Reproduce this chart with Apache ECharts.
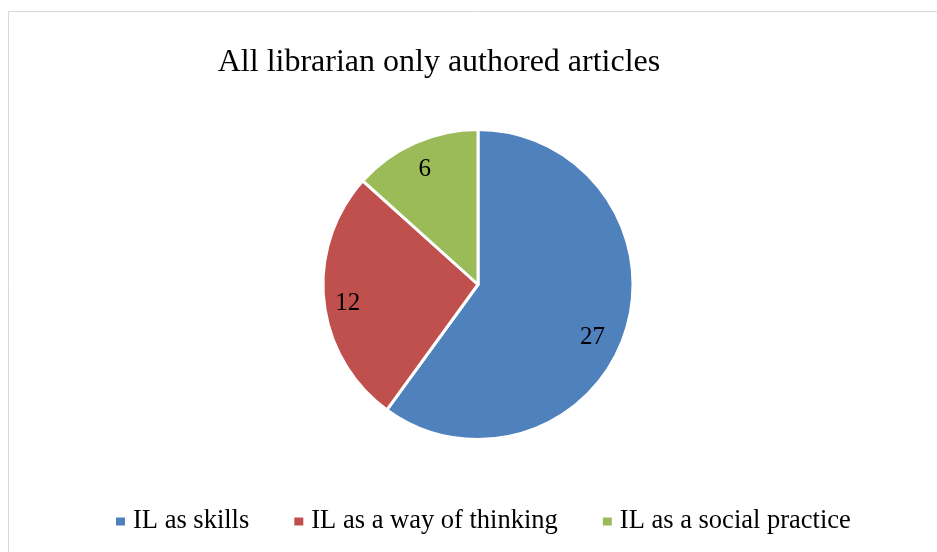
<!DOCTYPE html>
<html>
<head>
<meta charset="utf-8">
<script src="https://cdn.jsdelivr.net/npm/echarts@6/dist/echarts.min.js"></script>
<style>
  html, body { margin: 0; padding: 0; background: #fff; }
  #chart { width: 937px; height: 552px; }
</style>
</head>
<body>
<div id="chart"></div>
<script>
// Categories and article counts
const categories = ['IL as skills', 'IL as a way of thinking', 'IL as a social practice'];
const counts = [27, 12, 6];
const colors = ['#4F81BD', '#C0504D', '#9BBB59'];
const titleText = 'All librarian only authored articles';

const serif = '"Liberation Serif", "Times New Roman", serif';
const center = [478, 284.5];
const radius = 155;

const pieData = categories.map((name, i) => ({
  name: name,
  value: counts[i],
  itemStyle: { color: colors[i] }
}));

const chart = echarts.init(document.getElementById('chart'), null, { renderer: 'canvas' });
chart.setOption({
  backgroundColor: '#ffffff',
  animation: false,
  graphic: [{
    type: 'rect',
    shape: { x: 8.5, y: 11.5, width: 960, height: 600 },
    style: { fill: 'none', stroke: '#d9d9d9', lineWidth: 1 },
    silent: true,
    z: -10
  }],
  title: {
    text: titleText,
    left: 434,
    top: 42,
    textAlign: 'center',
    textStyle: { fontFamily: serif, fontSize: 32, fontWeight: 'normal', color: '#000' }
  },
  legend: {
    data: categories,
    left: 116,
    top: 508,
    padding: 0,
    icon: 'rect',
    itemWidth: 9,
    itemHeight: 8,
    itemGap: 45,
    itemStyle: { borderWidth: 0 },
    textStyle: { fontFamily: serif, fontSize: 26.5, color: '#000', padding: [0, 0, 0, 3] }
  },
  series: [
    {
      // coloured slices
      type: 'pie',
      center: center,
      radius: [0, radius],
      startAngle: 90,
      clockwise: true,
      silent: true,
      label: { show: false },
      labelLine: { show: false },
      itemStyle: { borderColor: '#ffffff', borderWidth: 3 },
      data: pieData
    },
    {
      // transparent ring carrying the value labels further out than mid-radius
      type: 'pie',
      center: center,
      radius: [101, radius],
      startAngle: 90,
      clockwise: true,
      silent: true,
      legendHoverLink: false,
      itemStyle: { color: 'rgba(0,0,0,0)', borderWidth: 0 },
      label: {
        show: true,
        position: 'inside',
        formatter: '{c}',
        fontFamily: serif,
        fontSize: 25,
        color: '#000'
      },
      labelLine: { show: false },
      labelLayout: function (params) {
        return params.dataIndex === 0 ? { dx: -10, dy: 12 } : { dy: 5 };
      },
      data: categories.map((name, i) => ({ name: name, value: counts[i] }))
    }
  ]
});
</script>
</body>
</html>
